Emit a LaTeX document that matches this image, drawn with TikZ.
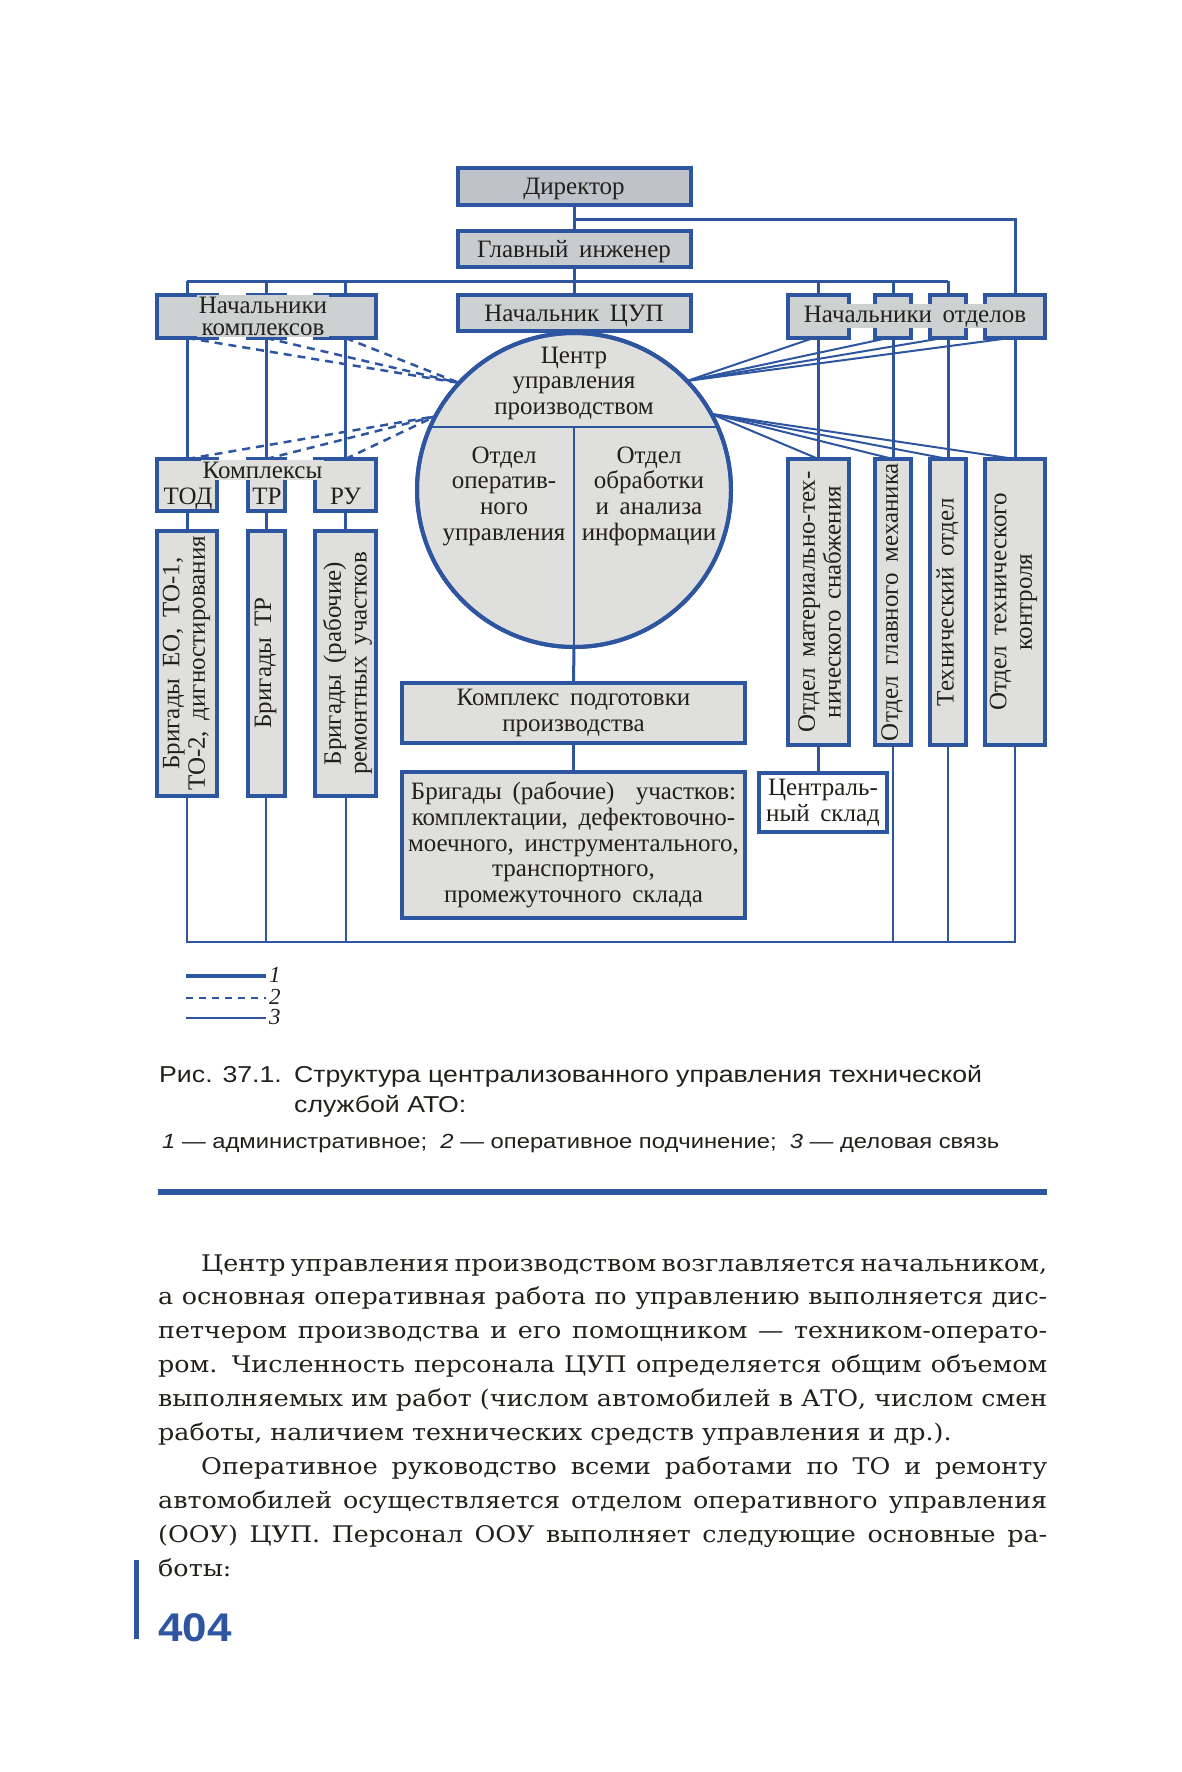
\documentclass[tikz,border=0pt]{standalone}
\usepackage{fontspec}
\usepackage{graphicx}
\setmainfont{Liberation Serif}
\newfontfamily\diagfam[WordSpace=1.7]{Liberation Serif}
\newfontfamily\bodyfam[FakeStretch=1.108]{DejaVu Serif}
\newfontfamily\capfam[FakeStretch=1.16]{Liberation Sans}
\newfontfamily\pagefam[FakeStretch=1.1]{Liberation Sans}
\usetikzlibrary{calc}
\definecolor{ablue}{RGB}{46,85,160}
\definecolor{ink}{RGB}{35,31,27}
\definecolor{dirfill}{RGB}{190,195,201}
\definecolor{gifill}{RGB}{201,204,207}
\definecolor{nfill}{RGB}{206,209,209}
\definecolor{lfill}{RGB}{223,224,222}
\newcommand\dfont{\diagfam\fontsize{25}{25.7}\selectfont}
\newcommand\dtight{\diagfam\fontsize{25}{22}\selectfont}
\newcommand\bfont{\bodyfam\fontsize{22.9}{33.9}\selectfont}
\newcommand\cfont{\capfam\fontsize{23}{30}\selectfont}
\newcommand\lfont{\capfam\fontsize{20.5}{30}\selectfont}
\newcommand\ptop[2]{\parbox[t]{#1pt}{\centering #2}}
\newcommand\jl[2]{\makebox[#1pt][s]{#2}}
\newcommand\tightsp{\spaceskip=0.24em plus 0.3em minus 0.02em\relax}
\tikzset{
  bx/.style={draw=ablue, line width=4pt, fill=lfill, inner sep=0pt, outer sep=0pt, text=ink, font=\dfont, align=center},
  one/.style={text height=16.5pt, text depth=0pt},
  txt/.style={inner sep=0pt, text=ink, font=\dfont, align=center},
  ptxt/.style={inner sep=0pt, text=ink, font=\dfont, anchor=base},
  band/.style={inner sep=1.5pt, text=ink, font=\dfont, align=center, fill=nfill},
  adm/.style={draw=ablue, line width=3pt},
  biz/.style={draw=ablue, line width=2pt},
  opr/.style={draw=ablue, line width=2.5pt, dash pattern=on 8pt off 6pt},
  body/.style={inner sep=0pt, anchor=base west, text=ink, font=\bfont},
  captxt/.style={inner sep=0pt, anchor=base west, text=ink, font=\cfont},
}
\begin{document}
\begin{tikzpicture}[x=1pt,y=-1pt]
\useasboundingbox (0,0) rectangle (1182,1772);
\coordinate (busD) at (0,219);
\coordinate (busG) at (0,281);
\coordinate (busB) at (0,942);
\coordinate (chord) at (0,427);

% ---------- top column ----------
\node[bx, one, fill=dirfill, minimum width=233pt, minimum height=37pt] (dir) at (574,186.5) {Директор};
\node[bx, one, fill=gifill, minimum width=233pt, minimum height=36pt] (gi) at (574,249) {Главный инженер};
\node[bx, one, fill=nfill, minimum width=233pt, minimum height=36pt] (cupb) at (574,313) {Начальник ЦУП};

% ---------- chiefs of complexes ----------
\node[bx, fill=nfill, minimum width=60pt, minimum height=43pt] (nk1) at (187,316.5) {};
\node[bx, fill=nfill, minimum width=37pt, minimum height=43pt] (nk2) at (266,316.5) {};
\node[bx, fill=nfill, minimum width=61pt, minimum height=43pt] (nk3) at (345.5,316.5) {};

% ---------- complexes ----------
\node[bx, minimum width=60pt, minimum height=52pt] (k1) at (187,485) {};
\node[bx, minimum width=37pt, minimum height=52pt] (k2) at (266,485) {};
\node[bx, minimum width=61pt, minimum height=52pt] (k3) at (345.5,485) {};

% ---------- brigades (left) ----------
\node[bx, minimum width=60pt, minimum height=265pt] (bl1) at (187,663.5) {};
\node[bx, minimum width=37pt, minimum height=265pt] (bl2) at (266,663.5) {};
\node[bx, minimum width=61pt, minimum height=265pt] (bl3) at (345.5,663.5) {};

% ---------- chiefs of departments ----------
\node[bx, fill=nfill, minimum width=61pt, minimum height=43pt] (no1) at (818.5,316.5) {};
\node[bx, fill=nfill, minimum width=36pt, minimum height=43pt] (no2) at (893,316.5) {};
\node[bx, fill=nfill, minimum width=36pt, minimum height=43pt] (no3) at (948,316.5) {};
\node[bx, fill=nfill, minimum width=60pt, minimum height=43pt] (no4) at (1015,316.5) {};

% ---------- departments ----------
\node[bx, minimum width=61pt, minimum height=286pt] (d1) at (818.5,602) {};
\node[bx, minimum width=36pt, minimum height=286pt] (d2) at (893,602) {};
\node[bx, minimum width=36pt, minimum height=286pt] (d3) at (948,602) {};
\node[bx, minimum width=60pt, minimum height=286pt] (d4) at (1015,602) {};

\node[bx, fill=white, minimum width=128pt, minimum height=59pt] (sk) at (823,802.5) {Централь-\\ный склад};

% ---------- centre ----------
\node[bx, circle, minimum size=314pt] (cup) at (574,490) {};
\begin{scope}
  \clip (cup.center) circle[radius=157pt];
  \draw[biz] (cup.west |- chord) -- (cup.east |- chord);
  \draw[biz] (cup.center |- chord) -- (cup.south);
\end{scope}
\draw[ablue, line width=4pt] (cup.center) circle[radius=157pt];

\node[bx, minimum width=343pt, minimum height=60pt] (kp) at (573.5,713) {Комплекс подготовки\\производства};
\node[bx, minimum width=343pt, minimum height=146pt] (br) at (573.5,845) {Бригады (рабочие)\ \ участков:\\комплектации, дефектовочно-\\моечного, инструментального,\\транспортного,\\промежуточного склада};

% ---------- connectors: administrative ----------
\draw[adm] (dir.south) -- (gi.north);
\draw[adm] (dir.south |- busD) -| (no4.north);
\draw[adm] (gi.south) -- (cupb.north);
\draw[adm] (nk1.north |- busG) -- (no3.north |- busG);
\foreach \n in {nk1,nk2,nk3,no1,no2,no3} \draw[adm] (\n.north |- busG) -- (\n.north);
\draw[adm] (nk1.south) -- (k1.north);
\draw[adm] (nk2.south) -- (k2.north);
\draw[adm] (nk3.south) -- (k3.north);
\draw[adm] (k1.south) -- (bl1.north);
\draw[adm] (k2.south) -- (bl2.north);
\draw[adm] (k3.south) -- (bl3.north);
\draw[adm] (no1.south) -- (d1.north);
\draw[adm] (no2.south) -- (d2.north);
\draw[adm] (no3.south) -- (d3.north);
\draw[adm] (no4.south) -- (d4.north);
\draw[adm] (d1.south) -- (d1.south |- sk.north);
\draw[adm] (cup.south) -- (kp.north);
\draw[adm] (kp.south) -- (br.north);

% ---------- connectors: business ----------
\draw[biz] (bl1.south) -- (bl1.south |- busB) -- (d4.south |- busB) -- (d4.south);
\foreach \n in {bl2,bl3,d2,d3} \draw[biz] (\n.south) -- (\n.south |- busB);
\foreach \n in {no1,no2,no3,no4} \draw[biz] (cup.44) -- ([xshift=-5pt]\n.south);
\foreach \n in {d1,d2,d3,d4} \draw[biz] (cup.29) -- (\n.north);

% ---------- connectors: operative ----------
\foreach \n in {nk1,nk2,nk3} \draw[opr] (\n.south) -- (cup.137);
\foreach \n in {k1,k2,k3} \draw[opr] (\n.north) -- (cup.152);

% ---------- texts ----------
\node[band, font=\dtight] (nkt) at (263,316) {Начальники\\комплексов};
\node[band, anchor=base, fill=lfill] (kt) at (262.5,478) {Комплексы};
\node[band, anchor=base] (nott) at (915,322) {Начальники\ отделов};
\node[ptxt] (tod) at (188,504) {ТОД};
\node[ptxt] (ttr) at (267,504) {ТР};
\node[ptxt] (tru) at (345.5,504) {РУ};

\node[ptxt] (cupt) at (574,363) {\ptop{300}{Центр\\управления\\производством}};
\node[ptxt] (oou) at (504,463) {\ptop{140}{Отдел\\оператив-\\ного\\управления}};
\node[ptxt] (oai) at (649,463) {\ptop{150}{Отдел\\обработки\\и анализа\\информации}};

\node[txt, rotate=90] (tbl1) at (186.5,663.5) {Бригады ЕО, ТО-1,\\ТО-2, дигностирования};
\node[txt, rotate=90] (tbl2) at (265.5,663) {Бригады ТР};
\node[txt, rotate=90] (tbl3) at (347.5,663.5) {Бригады (рабочие)\\ремонтных участков};
\node[txt, rotate=90] (td1) at (819.5,602) {Отдел материально-тех-\\нического снабжения};
\node[txt, rotate=90] (td2) at (892,602) {Отдел главного механика};
\node[txt, rotate=90] (td3) at (947.5,602) {Технический отдел};
\node[txt, rotate=90] (td4) at (1013.5,602) {Отдел технического\\контроля};

% ---------- legend ----------
\coordinate (lg1a) at (186,976); \coordinate (lg1b) at (266,976);
\coordinate (lg2a) at (186,998); \coordinate (lg2b) at (266,998);
\coordinate (lg3a) at (186,1018); \coordinate (lg3b) at (266,1018);
\draw[adm, line width=3.3pt] (lg1a) -- (lg1b);
\draw[opr, dash pattern=on 7pt off 6pt] (lg2a) -- (lg2b);
\draw[biz, line width=2.6pt] (lg3a) -- (lg3b);
\node[ptxt, anchor=base west, font=\diagfam\itshape\fontsize{23}{23}\selectfont] (lgn1) at (269,982) {1};
\node[ptxt, anchor=base west, font=\diagfam\itshape\fontsize{23}{23}\selectfont] (lgn2) at (269,1004) {2};
\node[ptxt, anchor=base west, font=\diagfam\itshape\fontsize{23}{23}\selectfont] (lgn3) at (269,1024) {3};

% ---------- caption ----------
\node[captxt] (cap0) at (159,1082) {Рис. 37.1.};
\node[captxt] (cap1) at (294,1082) {Структура централизованного управления технической};
\node[captxt] (cap2) at (294,1112) {службой АТО:};
\node[captxt, font=\lfont] (capl) at (162,1148) {\textit{1} — административное;\ \ \textit{2} — оперативное подчинение;\ \ \textit{3} — деловая связь};
\fill[ablue] (158,1189) rectangle (1047,1195);

% ---------- body text ----------
\node[body] (b1) at (201,1271) {\tightsp\jl{846}{Центр управления производством возглавляется начальником,}};
\node[body] (b2) at (158,1304.9) {\jl{889}{а основная оперативная работа по управлению выполняется дис-}};
\node[body] (b3) at (158,1338.8) {\jl{889}{петчером производства и его помощником — техником-операто-}};
\node[body] (b4) at (158,1372.7) {\jl{889}{ром. Численность персонала ЦУП определяется общим объемом}};
\node[body] (b5) at (158,1406.6) {\jl{889}{выполняемых им работ (числом автомобилей в АТО, числом смен}};
\node[body] (b6) at (158,1440.5) {работы, наличием технических средств управления и др.).};
\node[body] (b7) at (201,1474.4) {\jl{846}{Оперативное руководство всеми работами по ТО и ремонту}};
\node[body] (b8) at (158,1508.3) {\jl{889}{автомобилей осуществляется отделом оперативного управления}};
\node[body] (b9) at (158,1542.2) {\jl{889}{(ООУ) ЦУП. Персонал ООУ выполняет следующие основные ра-}};
\node[body] (b10) at (158,1576.1) {боты:};

% ---------- page number ----------
\fill[ablue] (134,1560) rectangle (139,1639);
\node[inner sep=0pt, anchor=base west, text=ablue, font=\pagefam\bfseries\fontsize{40}{40}\selectfont] (pg) at (158,1641) {404};
\end{tikzpicture}
\end{document}
